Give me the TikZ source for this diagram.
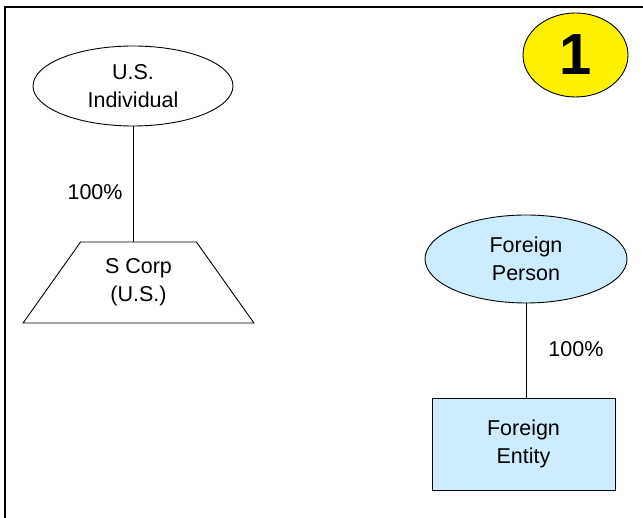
\documentclass[tikz,border=0pt]{standalone}
\usepackage{fontspec}
\setmainfont{Liberation Sans}
\usepackage{xcolor}
\usetikzlibrary{shapes.geometric}

\definecolor{lightblue}{HTML}{CCECFF}

\tikzset{
  owner/.style={draw, ellipse, line width=0.9pt, minimum width=200pt, minimum height=80pt, align=center, inner sep=0pt},
  corp/.style={draw, trapezium, trapezium stretches=true, line width=0.9pt, minimum width=231pt, minimum height=81pt, trapezium left angle=55, trapezium right angle=55, align=center, inner sep=0pt},
  entity/.style={draw, rectangle, line width=0.9pt, minimum width=183pt, minimum height=92pt, align=center, inner sep=0pt},
  pct/.style={inner sep=0pt}
}

\begin{document}
\begin{tikzpicture}[x=1pt, y=-1pt, font=\fontsize{21.5}{28}\selectfont]
  \useasboundingbox (0,0) rectangle (643,518);

  % frame lines (left and top only)
  \draw[line width=2.4pt] (5,518) -- (5,7) -- (643,7);

  % case number
  \node[draw, ellipse, fill=yellow, line width=0.9pt, minimum width=105pt, minimum height=84pt, inner sep=0pt,
        font=\fontsize{58}{60}\selectfont\bfseries] (num) at (575.5,55) {1};

  % U.S. side
  \node[owner] (usind) at (133,86) {U.S.\\Individual};
  \node[corp] (scorp) at (138.5,282.5) {S Corp\\(U.S.)};
  \draw[line width=0.9pt] (usind.south) -- (usind.south |- scorp.north)
    node[pct, pos=0.57, left=10pt] (pctus) {100\%};

  % foreign side
  \node[owner, fill=lightblue, minimum width=202pt, minimum height=88pt] (fperson) at (526,259) {Foreign\\Person};
  \node[entity, fill=lightblue] (fentity) at (523.5,444) {Foreign\\Entity};
  \draw[line width=0.9pt] (fperson.south) -- (fperson.south |- fentity.north)
    node[pct, pos=0.48, right=22pt] (pctf) {100\%};
\end{tikzpicture}
\end{document}
